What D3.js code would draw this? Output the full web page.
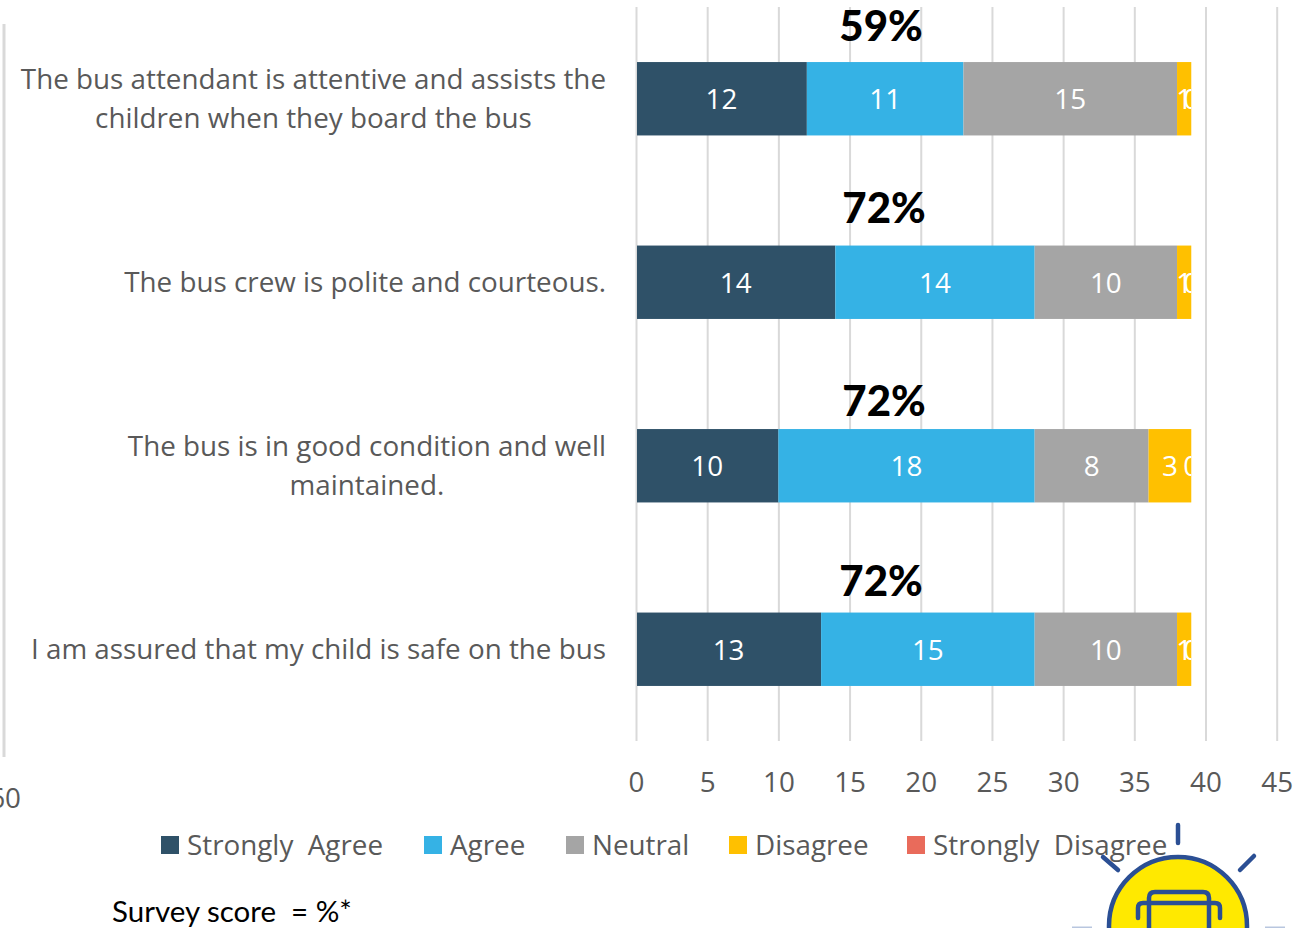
<!DOCTYPE html>
<html>
<head>
<meta charset="utf-8">
<script src="https://cdn.jsdelivr.net/npm/d3@7"></script>
<style>
  html, body { margin: 0; padding: 0; background: #fff; }
  svg { display: block; }
  text { font-family: "Open Sans", sans-serif; white-space: pre; }
</style>
</head>
<body>
<svg id="chart" width="1294" height="928"></svg>
<script>
// Parent survey: school bus service
const categories = [
  ["The bus attendant is attentive and assists the", "children when they board the bus"],
  ["The bus crew is polite and courteous."],
  ["The bus is in good condition and well", "maintained."],
  ["I am assured that my child is safe on the bus"]
];
const seriesNames = ["Strongly  Agree", "Agree", "Neutral", "Disagree", "Strongly  Disagree"];
const stronglyAgree = [12, 14, 10, 13];
const agree = [11, 14, 18, 15];
const neutral = [15, 10, 8, 10];
const disagree = [1, 1, 3, 1];
const stronglyDisagree = [0, 0, 0, 0];
const surveyScores = ["59%", "72%", "72%", "72%"];
const xTicks = [0, 5, 10, 15, 20, 25, 30, 35, 40, 45];
const seriesColors = ["#2F5168", "#35B2E5", "#A5A5A5", "#FFC000", "#E96B5B"];

const seriesValues = [stronglyAgree, agree, neutral, disagree, stronglyDisagree];
const svg = d3.select("#chart");
const plotTop = 7, plotBottom = 741;
const textSize = 27.8;

const x = d3.scaleLinear().domain([0, 45]).range([636, 1276.7]);
const y = d3.scaleBand().domain(d3.range(categories.length))
  .range([plotTop, plotBottom]).paddingInner(0.6).paddingOuter(0.3);

// Gridlines and value axis
const axis = svg.append("g")
  .attr("transform", `translate(0,${plotBottom})`)
  .call(d3.axisBottom(x).tickValues(xTicks).tickSize(-(plotBottom - plotTop)).tickPadding(31));
axis.select(".domain").remove();
axis.selectAll("line").attr("stroke", "#D9D9D9").attr("stroke-width", 2);
axis.selectAll("text").attr("fill", "#595959").attr("font-size", textSize)
  .attr("font-family", "'Open Sans', sans-serif");

// Leftover axis from the mirrored half of the chart
svg.append("line").attr("x1", 4).attr("x2", 4).attr("y1", 24).attr("y2", 757)
  .attr("stroke", "#D9D9D9").attr("stroke-width", 3);
svg.append("text").attr("x", 21).attr("y", 798).attr("dy", "0.35em")
  .attr("text-anchor", "end").attr("fill", "#595959").attr("font-size", textSize).text("60");

// Stacked bars, with labels trimmed at the end of each stack
const defs = svg.append("defs");
categories.forEach((_, row) => {
  const total = d3.sum(seriesValues, s => s[row]);
  defs.append("clipPath").attr("id", `stack-${row}`).append("rect")
    .attr("x", x(0)).attr("y", y(row))
    .attr("width", x(total) - x(0)).attr("height", y.bandwidth());

  let cumulative = 0;
  seriesValues.forEach((values, s) => {
    const v = values[row];
    const x0 = x(cumulative), x1 = x(cumulative + v);
    cumulative += v;
    svg.append("rect")
      .attr("x", x0 + (s === 0 ? 1 : 0)).attr("y", y(row))
      .attr("width", x1 - x0 - (s === 0 ? 1 : 0)).attr("height", y.bandwidth())
      .attr("fill", seriesColors[s]);
    svg.append("text")
      .attr("clip-path", `url(#stack-${row})`)
      .attr("x", (x0 + x1) / 2).attr("y", y(row) + y.bandwidth() / 2 + 1)
      .attr("dy", "0.35em").attr("text-anchor", "middle")
      .attr("fill", "#fff").attr("font-size", textSize).text(v);
  });
});

// Category labels: the block sits against the axis, each line centred within it
const labelRight = 606, lineHeight = 39;
categories.forEach((lines, row) => {
  const cy = y(row) + y.bandwidth() / 2;
  const g = svg.append("g");
  const nodes = lines.map((line, i) => g.append("text")
    .attr("y", cy + (i - (lines.length - 1) / 2) * lineHeight)
    .attr("dy", "0.35em").attr("text-anchor", "middle")
    .attr("fill", "#595959").attr("font-size", textSize).text(line));
  const width = d3.max(nodes, n => n.node().getComputedTextLength());
  nodes.forEach(n => n.attr("x", labelRight - width / 2));
});

// Survey scores above the bars
const scoreOffsets = [[881, 26], [884, 208], [884, 401], [881, 581]];
surveyScores.forEach((score, i) => {
  svg.append("text").attr("x", scoreOffsets[i][0]).attr("y", scoreOffsets[i][1])
    .attr("dy", "0.35em").attr("text-anchor", "middle")
    .style("font-family", "Lato, sans-serif").attr("font-weight", 900)
    .attr("font-size", 42).attr("fill", "#000").text(score);
});

// Decorative light bulb in the lower corner
const bulb = svg.append("g").attr("fill", "none").attr("stroke", "#2B4F94").attr("stroke-linecap", "round");
bulb.append("circle").attr("cx", 1178).attr("cy", 926).attr("r", 69)
  .attr("fill", "#FFE900").attr("stroke-width", 4.5);
[[1178, 825, 1178, 843], [1103, 857, 1118, 870], [1240, 870, 1254, 856]].forEach(r => {
  bulb.append("line").attr("x1", r[0]).attr("y1", r[1]).attr("x2", r[2]).attr("y2", r[3]).attr("stroke-width", 4.5);
});
bulb.append("path").attr("stroke-width", 4.5)
  .attr("d", "M1149 930V898Q1149 892 1155 892H1203Q1209 892 1209 898V930");
bulb.append("path").attr("stroke-width", 4.5)
  .attr("d", "M1138 918V908Q1138 903 1143 903H1215Q1220 903 1220 908V918");
[[1072, 1092], [1265, 1285]].forEach(r => {
  svg.append("line").attr("x1", r[0]).attr("x2", r[1]).attr("y1", 927.5).attr("y2", 927.5)
    .attr("stroke", "#B8C6DF").attr("stroke-width", 2);
});

// Legend
const legendSwatchX = [161, 424, 566, 729, 907];
seriesNames.forEach((name, i) => {
  svg.append("rect").attr("x", legendSwatchX[i]).attr("y", 836).attr("width", 18).attr("height", 18)
    .attr("fill", seriesColors[i]);
  svg.append("text").attr("x", legendSwatchX[i] + 26).attr("y", 845).attr("dy", "0.35em")
    .attr("fill", "#595959").attr("font-size", textSize).text(name);
});

svg.append("text").attr("x", 112).attr("y", 912).attr("dy", "0.35em")
  .style("font-family", "Lato, sans-serif").attr("fill", "#000").attr("font-size", 29.5)
  .text("Survey score  = %*");
</script>
</body>
</html>
